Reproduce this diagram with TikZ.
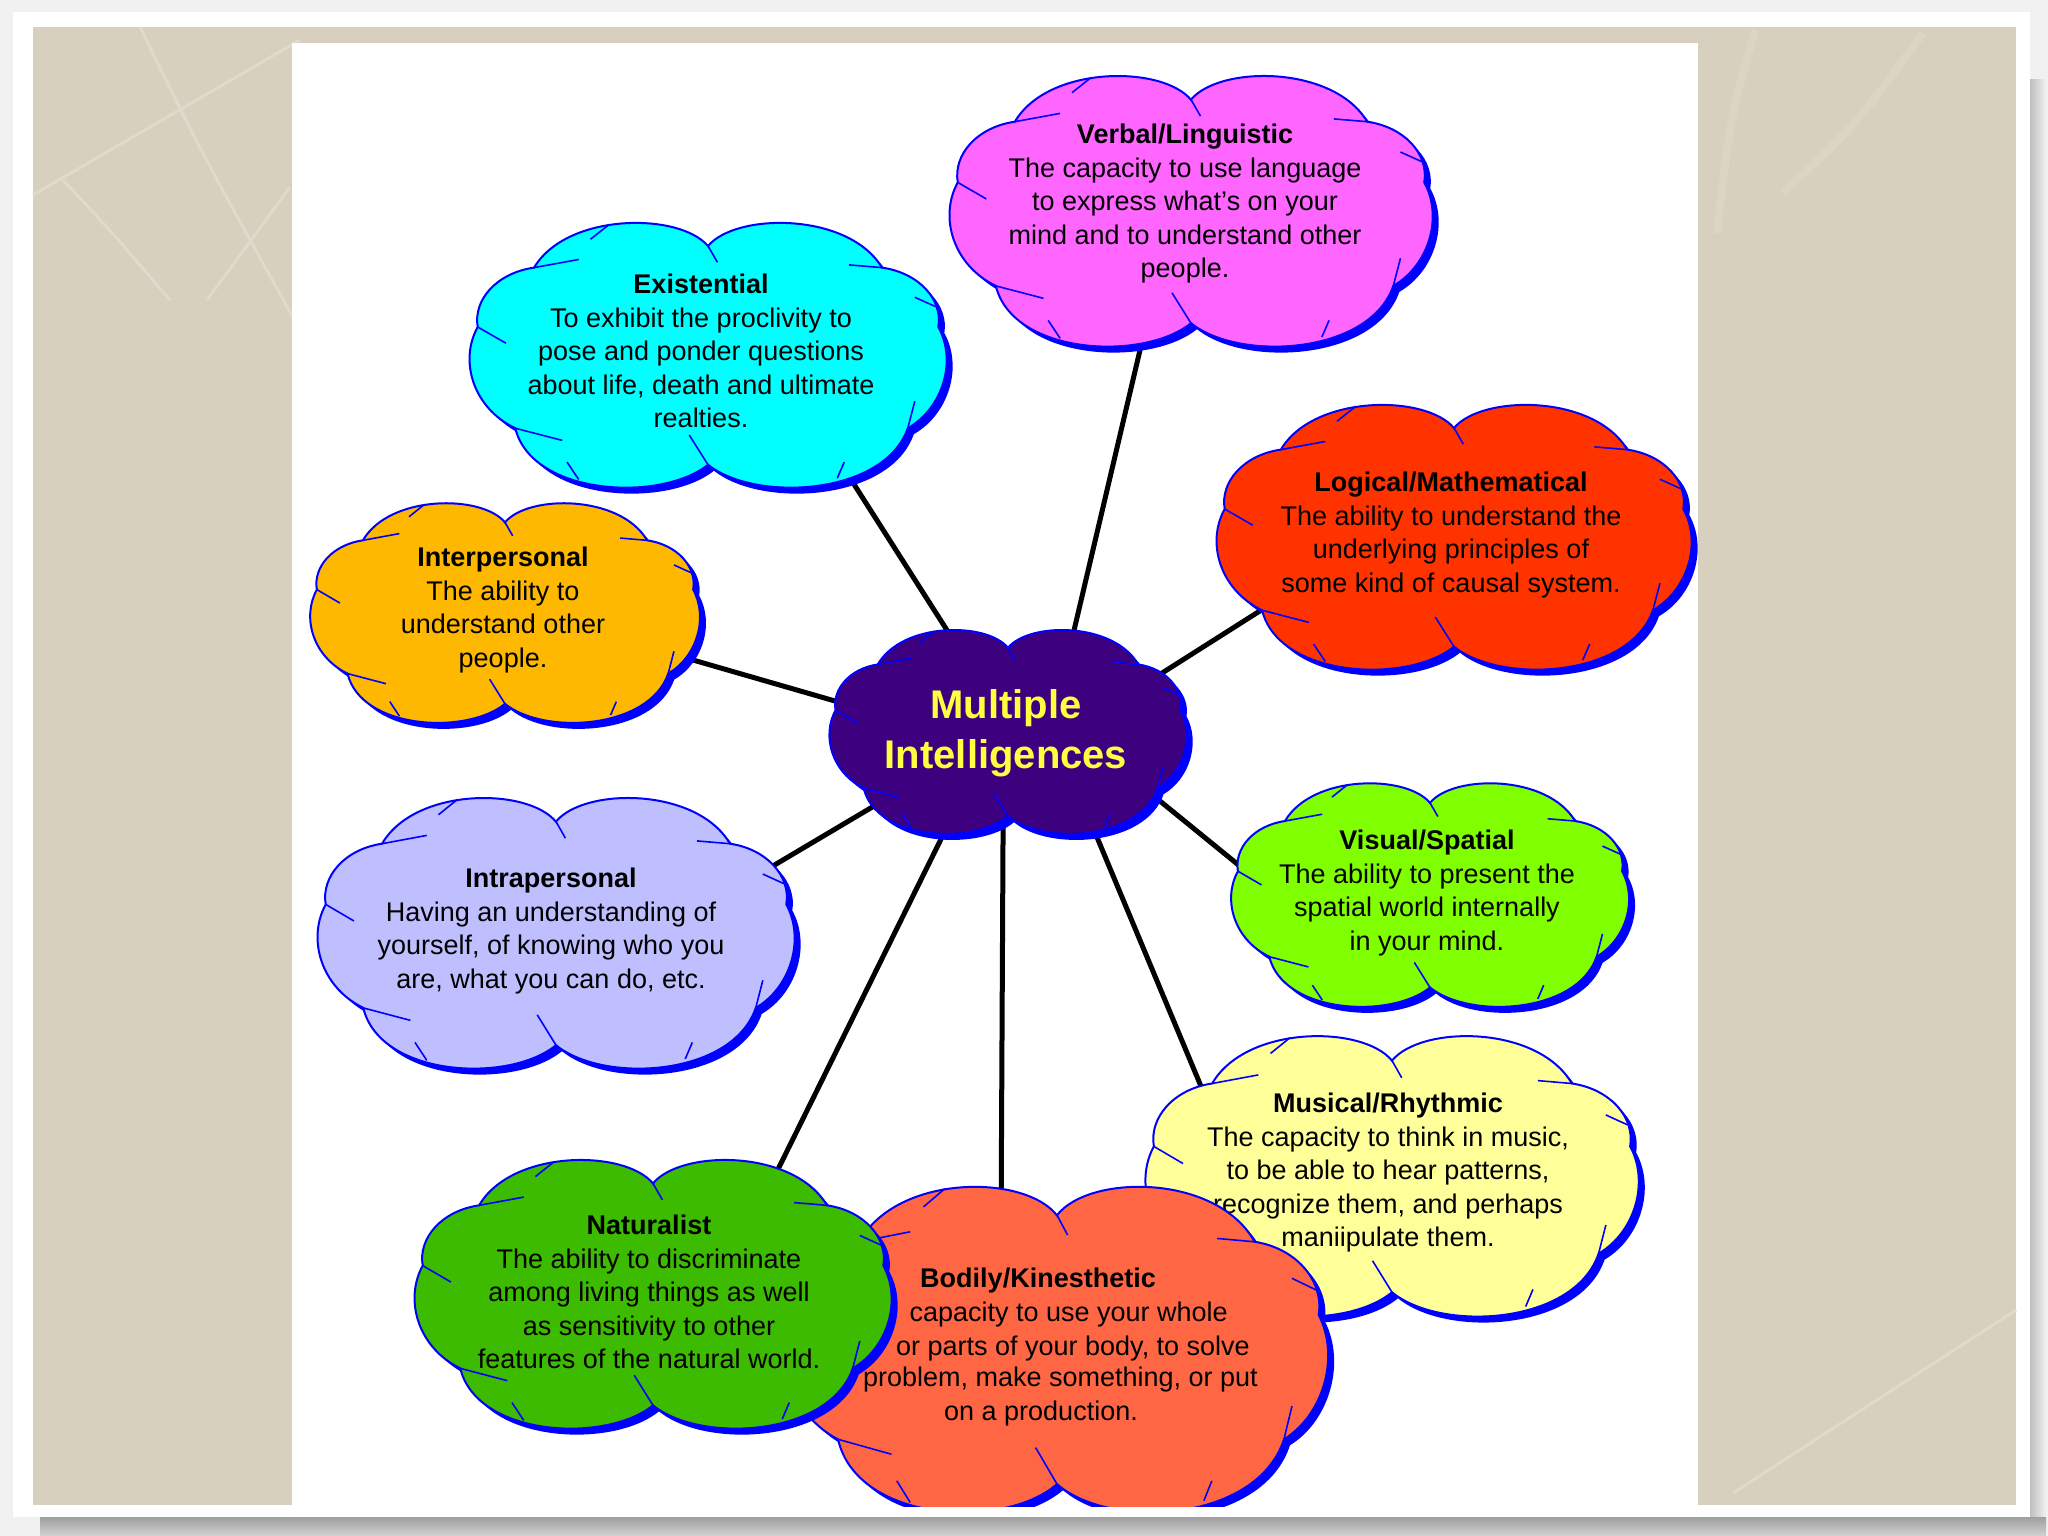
\documentclass[tikz,border=0pt]{standalone}
\usepackage{fontspec}
\setmainfont{Liberation Sans}
\usetikzlibrary{shapes.geometric}
\definecolor{outerbg}{HTML}{F1F1F1}
\definecolor{paper}{HTML}{D8D0BE}
\definecolor{paperline}{HTML}{E0DACB}
\definecolor{cloudblue}{HTML}{0000FF}
\definecolor{cVerbal}{HTML}{FF66FF}
\definecolor{cExist}{HTML}{00FFFF}
\definecolor{cLogic}{HTML}{FF3300}
\definecolor{cInter}{HTML}{FFB800}
\definecolor{cMI}{HTML}{3D007F}
\definecolor{cVisual}{HTML}{80FF00}
\definecolor{cIntra}{HTML}{BFBFFF}
\definecolor{cMusic}{HTML}{FFFF99}
\definecolor{cNatur}{HTML}{3CBB00}
\definecolor{cBodily}{HTML}{FF6644}
\definecolor{miyellow}{HTML}{FFFF40}
\tikzset{
  txt/.style={align=center, text=black, inner sep=0pt, font=\fontsize{27}{33.5}\selectfont},
  anch/.style={ellipse, inner sep=0pt, draw=none},
  link/.style={line width=5pt, black},
  crease/.style={cloudblue, line width=1.6pt},
}
\newcommand\cloudnode[5]{\node[anch, minimum width=1.8*#4pt, minimum height=1.8*#5pt] (#1) at (#2,#3) {};}
\newcommand\cloudat[5]{%
\begin{scope}[shift={(#1,#2)}]
 \begin{scope}[shift={(6,6)},xscale=#3,yscale=-#4]
   \fill[cloudblue] (0,0.80) .. controls (0.12,1.05) and (0.6,1.05) .. (0.74,0.64) .. controls (0.9,0.6) and (1.0,0.4) .. (0.98,0.2) .. controls (1.06,-0.05) and (1.0,-0.4) .. (0.85,-0.55) .. controls (0.75,-1.05) and (0.2,-1.1) .. (0,-0.82) .. controls (-0.2,-1.1) and (-0.75,-1.05) .. (-0.82,-0.55) .. controls (-1.0,-0.4) and (-1.06,-0.05) .. (-0.98,0.2) .. controls (-1.0,0.4) and (-0.9,0.6) .. (-0.74,0.64) .. controls (-0.6,1.05) and (-0.12,1.05) .. cycle;
 \end{scope}
 \begin{scope}[xscale=#3,yscale=-#4]
   \filldraw[fill=#5, draw=cloudblue, line width=2pt] (0,0.80) .. controls (0.12,1.05) and (0.6,1.05) .. (0.74,0.64) .. controls (0.9,0.6) and (1.0,0.4) .. (0.98,0.2) .. controls (1.06,-0.05) and (1.0,-0.4) .. (0.85,-0.55) .. controls (0.75,-1.05) and (0.2,-1.1) .. (0,-0.82) .. controls (-0.2,-1.1) and (-0.75,-1.05) .. (-0.82,-0.55) .. controls (-1.0,-0.4) and (-1.06,-0.05) .. (-0.98,0.2) .. controls (-1.0,0.4) and (-0.9,0.6) .. (-0.74,0.64) .. controls (-0.6,1.05) and (-0.12,1.05) .. cycle;
   \draw[crease] (0,0.80) -- (0.04,0.68);
   \draw[crease] (-0.74,0.64) -- (-0.55,0.70);
   \draw[crease] (0.74,0.64) -- (0.60,0.66);
   \draw[crease] (-0.42,0.96) -- (-0.5,0.85);
   \draw[crease] (0.97,0.35) -- (0.88,0.42);
   \draw[crease] (-0.98,0.2) -- (-0.86,0.08);
   \draw[crease] (-0.82,-0.55) -- (-0.62,-0.64);
   \draw[crease] (0,-0.82) -- (-0.08,-0.6);
   \draw[crease] (-0.55,-0.93) -- (-0.6,-0.8);
   \draw[crease] (0.85,-0.55) -- (0.88,-0.35);
   \draw[crease] (0.55,-0.92) -- (0.58,-0.8);
 \end{scope}
\end{scope}}
\begin{document}
\begin{tikzpicture}[x=1pt,y=-1pt]
\useasboundingbox (0,0) rectangle (2048,1536);
% outer background and frame
\fill[outerbg] (0,0) rectangle (2048,1536);
\shade[left color=gray!60, right color=outerbg] (2026,80) rectangle (2046,1530);
\fill[white] (13,12) rectangle (2030,1516);
\fill[paper] (33,27) rectangle (2016,1505);
% faint lines on the paper
\begin{scope}[paperline, line width=3pt]
\draw (140,27) .. controls (200,150) .. (300,330);
\draw (300,40) -- (33,195);
\draw (63,180) .. controls (110,230) .. (170,300);
\draw (290,187) -- (207,300);
\draw (2016,1310) -- (1733,1493);
\draw[opacity=0.5, line width=8pt] (1755,30) .. controls (1730,120) .. (1717,233);
\draw[opacity=0.5, line width=8pt] (1923,33) .. controls (1860,120) .. (1783,193);
\end{scope}
% white panel
\fill[white] (292,43) rectangle (1698,1505);
% anchor nodes for the clouds
\cloudnode{verbal}{1191}{210}{238}{138}
\cloudnode{exist}{708}{354}{235}{135}
\cloudnode{logic}{1454}{536}{234}{135}
\cloudnode{inter}{505}{612}{192}{112}
\cloudnode{mi}{1008}{731}{176}{104}
\cloudnode{visual}{1430}{894}{196}{114}
\cloudnode{intra}{556}{932}{235}{138}
\cloudnode{music}{1392}{1175}{243}{143}
\cloudnode{natur}{653}{1293}{235}{137}
\cloudnode{bodily}{1057}{1348}{267}{166}
% connectors
\draw[link] (mi.54) -- (verbal.249);
\draw[link] (mi.121) -- (exist.322);
\draw[link] (mi.19) -- (logic.200);
\draw[link] (mi.171) -- (inter.346);
\draw[link] (mi.338) -- (visual.175);
\draw[link] (mi.209) -- (intra.15);
\draw[link] (mi.237) -- (natur.42);
\draw[link] (mi.267) -- (bodily.111);
\draw[link] (mi.314) -- (music.159);
% clouds and texts
\cloudat{1191}{210}{238}{138}{cVerbal}
\node[txt] (tverbal) at (1185,204) {\textbf{Verbal/Linguistic}\\The capacity to use language\\to express what's on your\\mind and to understand other\\people.};
\cloudat{708}{354}{235}{135}{cExist}
\node[txt] (texist) at (701,351) {\textbf{Existential}\\To exhibit the proclivity to\\pose and ponder questions\\about life, death and ultimate\\realties.};
\cloudat{1454}{536}{234}{135}{cLogic}
\node[txt] (tlogic) at (1451,535) {\textbf{Logical/Mathematical}\\The ability to understand the\\underlying principles of\\some kind of causal system.};
\cloudat{505}{612}{192}{112}{cInter}
\node[txt] (tinter) at (503,610) {\textbf{Interpersonal}\\The ability to\\understand other\\people.};
\cloudat{1008}{731}{176}{104}{cMI}
\node[align=center, inner sep=0pt, text=miyellow, font=\bfseries\fontsize{40}{50}\selectfont] (tmi) at (1006,733) {Multiple\\Intelligences};
\cloudat{1430}{894}{196}{114}{cVisual}
\node[txt] (tvisual) at (1427,893) {\textbf{Visual/Spatial}\\The ability to present the\\spatial world internally\\in your mind.};
\cloudat{556}{932}{235}{138}{cIntra}
\node[txt] (tintra) at (551,931) {\textbf{Intrapersonal}\\Having an understanding of\\yourself, of knowing who you\\are, what you can do, etc.};
\cloudat{1392}{1175}{243}{143}{cMusic}
\node[txt] (tmusic) at (1388,1173) {\textbf{Musical/Rhythmic}\\The capacity to think in music,\\to be able to hear patterns,\\recognize them, and perhaps\\maniipulate them.};
\cloudat{1057}{1348}{267}{166}{cBodily}
\node[txt] (tbod0) at (1038,1281) {\textbf{Bodily/Kinesthetic}};
\node[txt, anchor=east] (tbod1) at (1228,1315) {capacity to use your whole};
\node[txt, anchor=east] (tbod2) at (1250,1349) {or parts of your body, to solve};
\node[txt, anchor=east] (tbod3) at (1258,1380) {problem, make something, or put};
\node[txt] (tbod4) at (1041,1414) {on a production.};
\cloudat{653}{1293}{235}{137}{cNatur}
\node[txt] (tnatur) at (649,1292) {\textbf{Naturalist}\\The ability to discriminate\\among living things as well\\as sensitivity to other\\features of the natural world.};
% bottom torn edge and shadow
\fill[white] (13,1507) rectangle (2030,1517);
\shade[top color=gray!75, bottom color=gray!35] (40,1517) rectangle (2046,1536);
\end{tikzpicture}
\end{document}
